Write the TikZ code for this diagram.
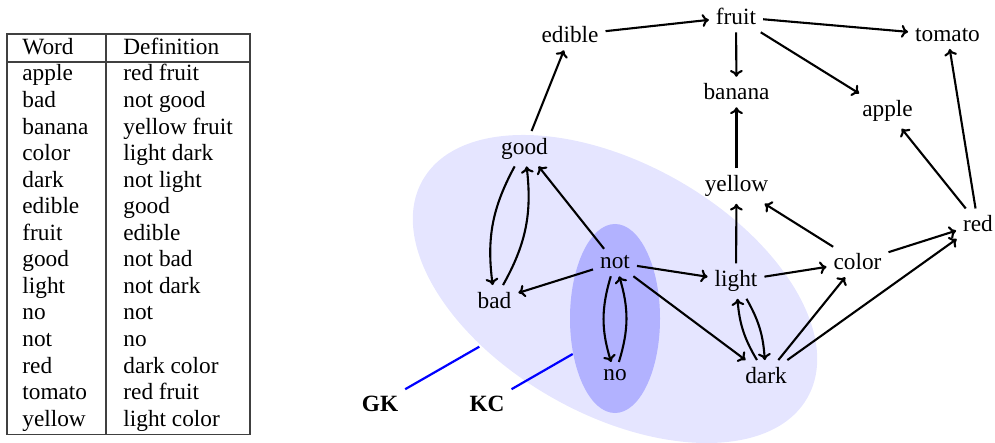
\documentclass[tikz,border=0pt]{standalone}
\usepackage{fontspec}
\setmainfont{Liberation Serif}
\usetikzlibrary{arrows.meta}
\begin{document}
\begin{tikzpicture}[x=0.5pt,y=-0.5pt,
  every node/.style={font=\fontsize{11.65}{14}\selectfont},
  w/.style={anchor=base},
  tw/.style={anchor=base west, inner sep=0pt},
  lab/.style={anchor=base, font=\fontsize{11.65}{14}\selectfont\bfseries},
  e/.style={-{To[length=3.4pt,width=6.4pt]}, line width=1.05pt},
  bl/.style={blue, line width=1.1pt},
  tabline/.style={black!75, line width=0.6pt},
  gkfill/.style={fill=blue!10},
  kcfill/.style={fill=blue!30}]
\useasboundingbox (0,0) rectangle (995,443);

% knowledge regions
\fill[gkfill, rotate around={-29.4:(615,289)}] (615,289) ellipse [x radius=221, y radius=125.5];
\fill[kcfill] (615,318.5) ellipse [x radius=45, y radius=94.5];

% table
\draw[tabline] (7,34) rectangle (250,434.5);
\draw[tabline] (7,62) -- (250,62);
\draw[tabline] (106,34) -- (106,434.5);
\node[tw] (hw) at (22,55) {Word};
\node[tw] (hd) at (123,55) {Definition};
\foreach \a/\b [count=\i] in {apple/red fruit, bad/not good, banana/yellow fruit,
  color/light dark, dark/not light, edible/good, fruit/edible, good/not bad,
  light/not dark, no/not, not/no, red/dark color, tomato/red fruit, yellow/light color}{
  \node[tw] (w\i) at (22,{81+26.55*(\i-1)}) {\a};
  \node[tw] (d\i) at (123,{81+26.55*(\i-1)}) {\b};
}

% graph nodes
\node[w] (edible) at (570,43) {edible};
\node[w] (fruit) at (736,25) {fruit};
\node[w] (tomato) at (947.5,41.7) {tomato};
\node[w] (banana) at (736.5,100) {banana};
\node[w] (apple) at (887.5,116.7) {apple};
\node[w] (good) at (524.5,154.3) {good};
\node[w] (yellow) at (736.5,191.7) {yellow};
\node[w] (red) at (978,231.7) {red};
\node[w] (color) at (857.5,270) {color};
\node[w] (not) at (615,269) {not};
\node[w] (light) at (736,286.7) {light};
\node[w] (bad) at (494.5,308.3) {bad};
\node[w] (no) at (615,380) {no};
\node[w] (dark) at (766,383.3) {dark};
\node[lab] (GK) at (380,411.7) {GK};
\node[lab] (KC) at (487,411.7) {KC};

\coordinate (gkend) at (479.3,346.7);
\coordinate (kcend) at (572.7,354);
\draw[bl] (GK.north east) -- (gkend);
\draw[bl] (KC.north east) -- (kcend);

% edges
\draw[e] (edible) -- (fruit);
\draw[e] (fruit) -- (tomato);
\draw[e] (fruit) -- (banana);
\draw[e] (fruit) -- (apple);
\draw[e] (good) -- (edible);
\draw[e] (yellow) -- (banana);
\draw[e] (red) -- (tomato);
\draw[e] (red) -- (apple);
\draw[e] (color) -- (yellow);
\draw[e] (color) -- (red);
\draw[e] (light) -- (color);
\draw[e] (light) -- (yellow);
\draw[e] (dark) -- (red);
\draw[e] (dark) -- (color);
\draw[e] (not) -- (light);
\draw[e] (not) -- (dark);
\draw[e] (not) -- (bad);
\draw[e] (not) -- (good);
\draw[e] (good) to[bend right=18] (bad);
\draw[e] (bad) to[bend right=18] (good);
\draw[e] (not) to[bend right=17] (no);
\draw[e] (no) to[bend right=17] (not);
\draw[e] (light) to[bend left=13] (dark);
\draw[e] (dark) to[bend left=13] (light);
\end{tikzpicture}
\end{document}
